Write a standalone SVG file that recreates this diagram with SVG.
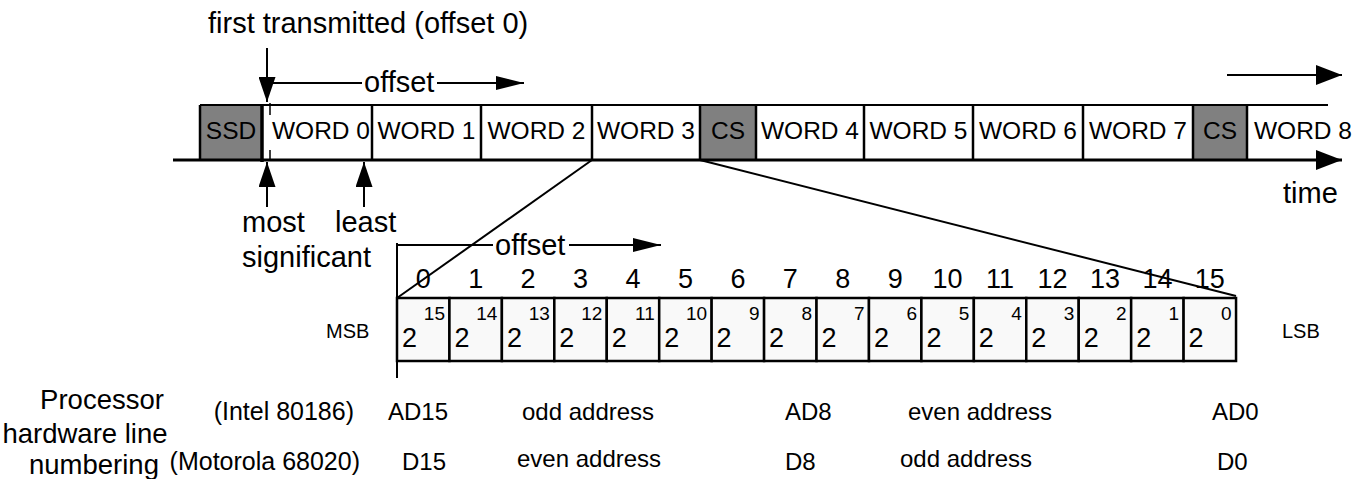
<svg xmlns="http://www.w3.org/2000/svg" width="1364" height="479" viewBox="0 0 1364 479">
  <style>
    text { font-family: "Liberation Sans", Arial, Helvetica, sans-serif; fill: #000; }
    .lbl { font-size: 29px; }
    .word { font-size: 24.5px; text-anchor: middle; }
    .num { font-size: 27px; text-anchor: middle; }
    .base { font-size: 27px; }
    .exp { font-size: 19px; text-anchor: end; }
    .side { font-size: 20px; }
    .proc { font-size: 27.5px; text-anchor: middle; }
    .hw { font-size: 24px; }
    .cpu { font-size: 25px; text-anchor: end; }
    .ln { stroke: #000; stroke-width: 2; fill: none; }
    .wbox { fill: #fff; stroke: none; }
    .gbox { fill: #808080; stroke: none; }
    .div { stroke: #000; stroke-width: 2.5; }
    .bit { fill: #f9f9f9; stroke: #000; stroke-width: 2.5; }
  </style>
  <defs>
    <marker id="arrow" markerUnits="userSpaceOnUse" markerWidth="27" markerHeight="20" refX="26" refY="10" orient="auto">
      <path d="M0,0 L26,10 L0,20 Z" fill="#000"/>
    </marker>
    <marker id="arrowO" markerUnits="userSpaceOnUse" markerWidth="29" markerHeight="14" refX="28" refY="7" orient="auto">
      <path d="M0,0 L28,7 L0,14 Z" fill="#000"/>
    </marker>
    <marker id="arrowV" markerUnits="userSpaceOnUse" markerWidth="26" markerHeight="17" refX="25" refY="8.5" orient="auto">
      <path d="M0,0 L25,8.5 L0,17 Z" fill="#000"/>
    </marker>
  </defs>

  <!-- caption over the word stream -->
  <text id="first-transmitted" class="lbl" x="208" y="33">first transmitted (offset 0)</text>

  <!-- word stream -->
  <g id="stream">
    <rect id="ssd" class="gbox" x="200" y="105" width="62" height="55"/>
    <rect class="wbox" x="262" y="105" width="438" height="55"/>
    <rect id="cs1" class="gbox" x="700" y="105" width="56" height="55"/>
    <rect class="wbox" x="756" y="105" width="437" height="55"/>
    <rect id="cs2" class="gbox" x="1193" y="105" width="54" height="55"/>
    <line class="div" x1="200" y1="105" x2="200" y2="160"/>
    <line x1="262" y1="105" x2="262" y2="162" stroke="#000" stroke-width="3.5"/>
    <line class="div" x1="372" y1="105" x2="372" y2="160"/>
    <line class="div" x1="481" y1="105" x2="481" y2="160"/>
    <line class="div" x1="592" y1="105" x2="592" y2="160"/>
    <line class="div" x1="700" y1="105" x2="700" y2="160"/>
    <line class="div" x1="756" y1="105" x2="756" y2="160"/>
    <line class="div" x1="864" y1="105" x2="864" y2="160"/>
    <line class="div" x1="973" y1="105" x2="973" y2="160"/>
    <line class="div" x1="1083" y1="105" x2="1083" y2="160"/>
    <line class="div" x1="1193" y1="105" x2="1193" y2="160"/>
    <line class="div" x1="1247" y1="105" x2="1247" y2="160"/>
    <line x1="200" y1="105" x2="1328" y2="105" stroke="#000" stroke-width="2"/>
    <line x1="270" y1="103" x2="270" y2="160" stroke="#000" stroke-width="1.5" stroke-dasharray="12 35"/>
    <text class="word" x="231" y="139">SSD</text>
    <text class="word" x="321" y="139">WORD 0</text>
    <text class="word" x="426.5" y="139">WORD 1</text>
    <text class="word" x="536.5" y="139">WORD 2</text>
    <text class="word" x="646" y="139">WORD 3</text>
    <text class="word" x="728" y="139">CS</text>
    <text class="word" x="810" y="139">WORD 4</text>
    <text class="word" x="918.5" y="139">WORD 5</text>
    <text class="word" x="1028" y="139">WORD 6</text>
    <text class="word" x="1138" y="139">WORD 7</text>
    <text class="word" x="1220" y="139">CS</text>
    <text class="word" x="1303" y="139">WORD 8</text>
  </g>

  <text id="time" class="lbl" x="1283" y="203">time</text>
  <g id="significance">
    <text class="lbl" x="242" y="232">most</text>
    <text class="lbl" x="335" y="232">least</text>
    <text class="lbl" x="242" y="267">significant</text>
  </g>

  <!-- 16-bit word, bit 15 on the left -->
  <g id="bits">
    <rect class="bit" x="397" y="298" width="52.44" height="63"/>
    <rect class="bit" x="449.44" y="298" width="52.44" height="63"/>
    <rect class="bit" x="501.88" y="298" width="52.44" height="63"/>
    <rect class="bit" x="554.32" y="298" width="52.44" height="63"/>
    <rect class="bit" x="606.76" y="298" width="52.44" height="63"/>
    <rect class="bit" x="659.2" y="298" width="52.44" height="63"/>
    <rect class="bit" x="711.64" y="298" width="52.44" height="63"/>
    <rect class="bit" x="764.08" y="298" width="52.44" height="63"/>
    <rect class="bit" x="816.52" y="298" width="52.44" height="63"/>
    <rect class="bit" x="868.96" y="298" width="52.44" height="63"/>
    <rect class="bit" x="921.4" y="298" width="52.44" height="63"/>
    <rect class="bit" x="973.84" y="298" width="52.44" height="63"/>
    <rect class="bit" x="1026.28" y="298" width="52.44" height="63"/>
    <rect class="bit" x="1078.72" y="298" width="52.44" height="63"/>
    <rect class="bit" x="1131.16" y="298" width="52.44" height="63"/>
    <rect class="bit" x="1183.6" y="298" width="52.44" height="63"/>

    <text class="base" x="402" y="347">2</text><text class="exp" x="445" y="320">15</text>
    <text class="base" x="454.4" y="347">2</text><text class="exp" x="497.4" y="320">14</text>
    <text class="base" x="506.9" y="347">2</text><text class="exp" x="549.9" y="320">13</text>
    <text class="base" x="559.3" y="347">2</text><text class="exp" x="602.3" y="320">12</text>
    <text class="base" x="611.8" y="347">2</text><text class="exp" x="654.8" y="320">11</text>
    <text class="base" x="664.2" y="347">2</text><text class="exp" x="707.2" y="320">10</text>
    <text class="base" x="716.6" y="347">2</text><text class="exp" x="759.6" y="320">9</text>
    <text class="base" x="769.1" y="347">2</text><text class="exp" x="812.1" y="320">8</text>
    <text class="base" x="821.5" y="347">2</text><text class="exp" x="864.5" y="320">7</text>
    <text class="base" x="874" y="347">2</text><text class="exp" x="917" y="320">6</text>
    <text class="base" x="926.4" y="347">2</text><text class="exp" x="969.4" y="320">5</text>
    <text class="base" x="978.8" y="347">2</text><text class="exp" x="1021.8" y="320">4</text>
    <text class="base" x="1031.3" y="347">2</text><text class="exp" x="1074.3" y="320">3</text>
    <text class="base" x="1083.7" y="347">2</text><text class="exp" x="1126.7" y="320">2</text>
    <text class="base" x="1136.2" y="347">2</text><text class="exp" x="1179.2" y="320">1</text>
    <text class="base" x="1188.6" y="347">2</text><text class="exp" x="1231.6" y="320">0</text>
  </g>

  <g id="bit-offsets">
    <text class="num" x="423.2" y="288">0</text>
    <text class="num" x="475.7" y="288">1</text>
    <text class="num" x="528.1" y="288">2</text>
    <text class="num" x="580.5" y="288">3</text>
    <text class="num" x="633" y="288">4</text>
    <text class="num" x="685.4" y="288">5</text>
    <text class="num" x="737.9" y="288">6</text>
    <text class="num" x="790.3" y="288">7</text>
    <text class="num" x="842.7" y="288">8</text>
    <text class="num" x="895.2" y="288">9</text>
    <text class="num" x="947.6" y="288">10</text>
    <text class="num" x="1000.1" y="288">11</text>
    <text class="num" x="1052.5" y="288">12</text>
    <text class="num" x="1104.9" y="288">13</text>
    <text class="num" x="1157.4" y="288">14</text>
    <text class="num" x="1209.8" y="288">15</text>
  </g>

  <text id="msb" class="side" x="326" y="338">MSB</text>
  <text id="lsb" class="side" x="1282" y="338">LSB</text>

  <!-- processor line numbering -->
  <g id="processor">
    <text class="proc" x="102" y="409">Processor</text>
    <text class="proc" x="85" y="443">hardware line</text>
    <text class="proc" x="94" y="474">numbering</text>
  </g>
  <g id="intel">
    <text class="cpu" x="354" y="420">(Intel 80186)</text>
    <text class="hw" x="388" y="420">AD15</text>
    <text class="hw" x="522" y="420">odd address</text>
    <text class="hw" x="785" y="420">AD8</text>
    <text class="hw" x="908" y="420">even address</text>
    <text class="hw" x="1212" y="420">AD0</text>
  </g>
  <g id="motorola">
    <text class="cpu" x="360" y="470">(Motorola 68020)</text>
    <text class="hw" x="402" y="470">D15</text>
    <text class="hw" x="517" y="467">even address</text>
    <text class="hw" x="785" y="470">D8</text>
    <text class="hw" x="900" y="467">odd address</text>
    <text class="hw" x="1217" y="470">D0</text>
  </g>

  <!-- connectors -->
  <g id="connectors">
    <line x1="173" y1="160" x2="1342" y2="160" stroke="#000" stroke-width="3" marker-end="url(#arrow)"/>
    <line x1="1227" y1="75" x2="1342" y2="75" stroke="#000" stroke-width="2" marker-end="url(#arrow)"/>
    <line class="ln" x1="267" y1="48" x2="267" y2="102" marker-end="url(#arrowV)"/>
    <line class="ln" x1="270" y1="83" x2="362" y2="83"/>
    <text class="lbl" x="364" y="92">offset</text>
    <line class="ln" x1="437" y1="83" x2="524" y2="83" marker-end="url(#arrowO)"/>
    <line class="ln" x1="267" y1="207" x2="267" y2="162" marker-end="url(#arrowV)"/>
    <line class="ln" x1="364" y1="207" x2="364" y2="162" marker-end="url(#arrowV)"/>
    <line class="ln" x1="592" y1="160" x2="397" y2="298"/>
    <line class="ln" x1="700" y1="160" x2="1236" y2="296"/>
    <line class="ln" x1="397" y1="243" x2="397" y2="378"/>
    <line class="ln" x1="397" y1="245" x2="493" y2="245"/>
    <text class="lbl" x="495" y="255">offset</text>
    <line class="ln" x1="569" y1="245" x2="661" y2="245" marker-end="url(#arrowO)"/>
  </g>
</svg>
